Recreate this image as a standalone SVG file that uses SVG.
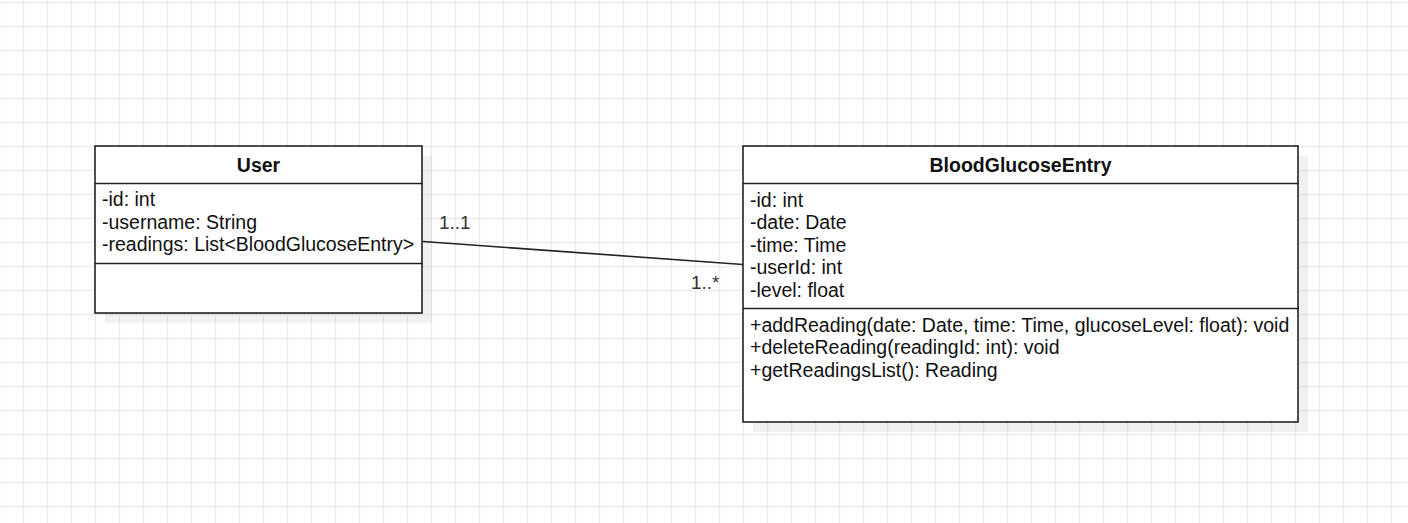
<svg xmlns="http://www.w3.org/2000/svg" width="1408" height="523" viewBox="0 0 1408 523">
<style>
  .box { fill: #ffffff; stroke: #222222; stroke-width: 1.6; }
  .div { stroke: #222222; stroke-width: 1.6; fill: none; }
  .shadow { fill: #000000; fill-opacity: 0.055; }
  .title { font-family: "Liberation Sans", Arial, sans-serif; font-size: 19.5px; font-weight: bold; fill: #111111; text-anchor: middle; }
  .attr { font-family: "Liberation Sans", Arial, sans-serif; font-size: 19.5px; fill: #111111; }
  .lbl { font-family: "Liberation Sans", Arial, sans-serif; font-size: 19px; fill: #333333; }
  .edge { stroke: #222222; stroke-width: 1.6; fill: none; }
</style>
<defs>
  <pattern id="grid" x="11" y="-10" width="24" height="24" patternUnits="userSpaceOnUse">
    <path d="M12.5 0 V24 M0 12.5 H24" stroke="#ebebeb" stroke-width="1.3" fill="none"/>
  </pattern>
</defs>
<rect x="0" y="0" width="1408" height="523" fill="#ffffff"/>
<rect x="0" y="0" width="1408" height="523" fill="url(#grid)"/>

<g id="connectors">
  <line class="edge" x1="423" y1="241.5" x2="743" y2="264.5"/>
  <text class="lbl" x="439" y="229">1..1</text>
  <text class="lbl" x="691" y="289">1..*</text>
</g>

<g id="User">
  <rect class="shadow" x="105" y="156" width="327" height="167"/>
  <rect class="box" x="95" y="146" width="327" height="167"/>
  <line class="div" x1="95" y1="183.5" x2="423" y2="183.5"/>
  <line class="div" x1="95" y1="263.5" x2="423" y2="263.5"/>
  <text class="title" x="258.5" y="171.5">User</text>
  <text class="attr" x="102" y="206">-id: int</text>
  <text class="attr" x="102" y="228.5">-username: String</text>
  <text class="attr" x="102" y="251">-readings: List&lt;BloodGlucoseEntry&gt;</text>
</g>

<g id="BloodGlucoseEntry">
  <rect class="shadow" x="753" y="156" width="555" height="276"/>
  <rect class="box" x="743" y="146" width="555" height="276"/>
  <line class="div" x1="743" y1="183.5" x2="1299" y2="183.5"/>
  <line class="div" x1="743" y1="308.5" x2="1299" y2="308.5"/>
  <text class="title" x="1020.5" y="171.5">BloodGlucoseEntry</text>
  <text class="attr" x="750" y="206.5">-id: int</text>
  <text class="attr" x="750" y="229">-date: Date</text>
  <text class="attr" x="750" y="251.5">-time: Time</text>
  <text class="attr" x="750" y="274">-userId: int</text>
  <text class="attr" x="750" y="296.5">-level: float</text>
  <text class="attr" x="750" y="331.5">+addReading(date: Date, time: Time, glucoseLevel: float): void</text>
  <text class="attr" x="750" y="354">+deleteReading(readingId: int): void</text>
  <text class="attr" x="750" y="376.5">+getReadingsList(): Reading</text>
</g>
</svg>
